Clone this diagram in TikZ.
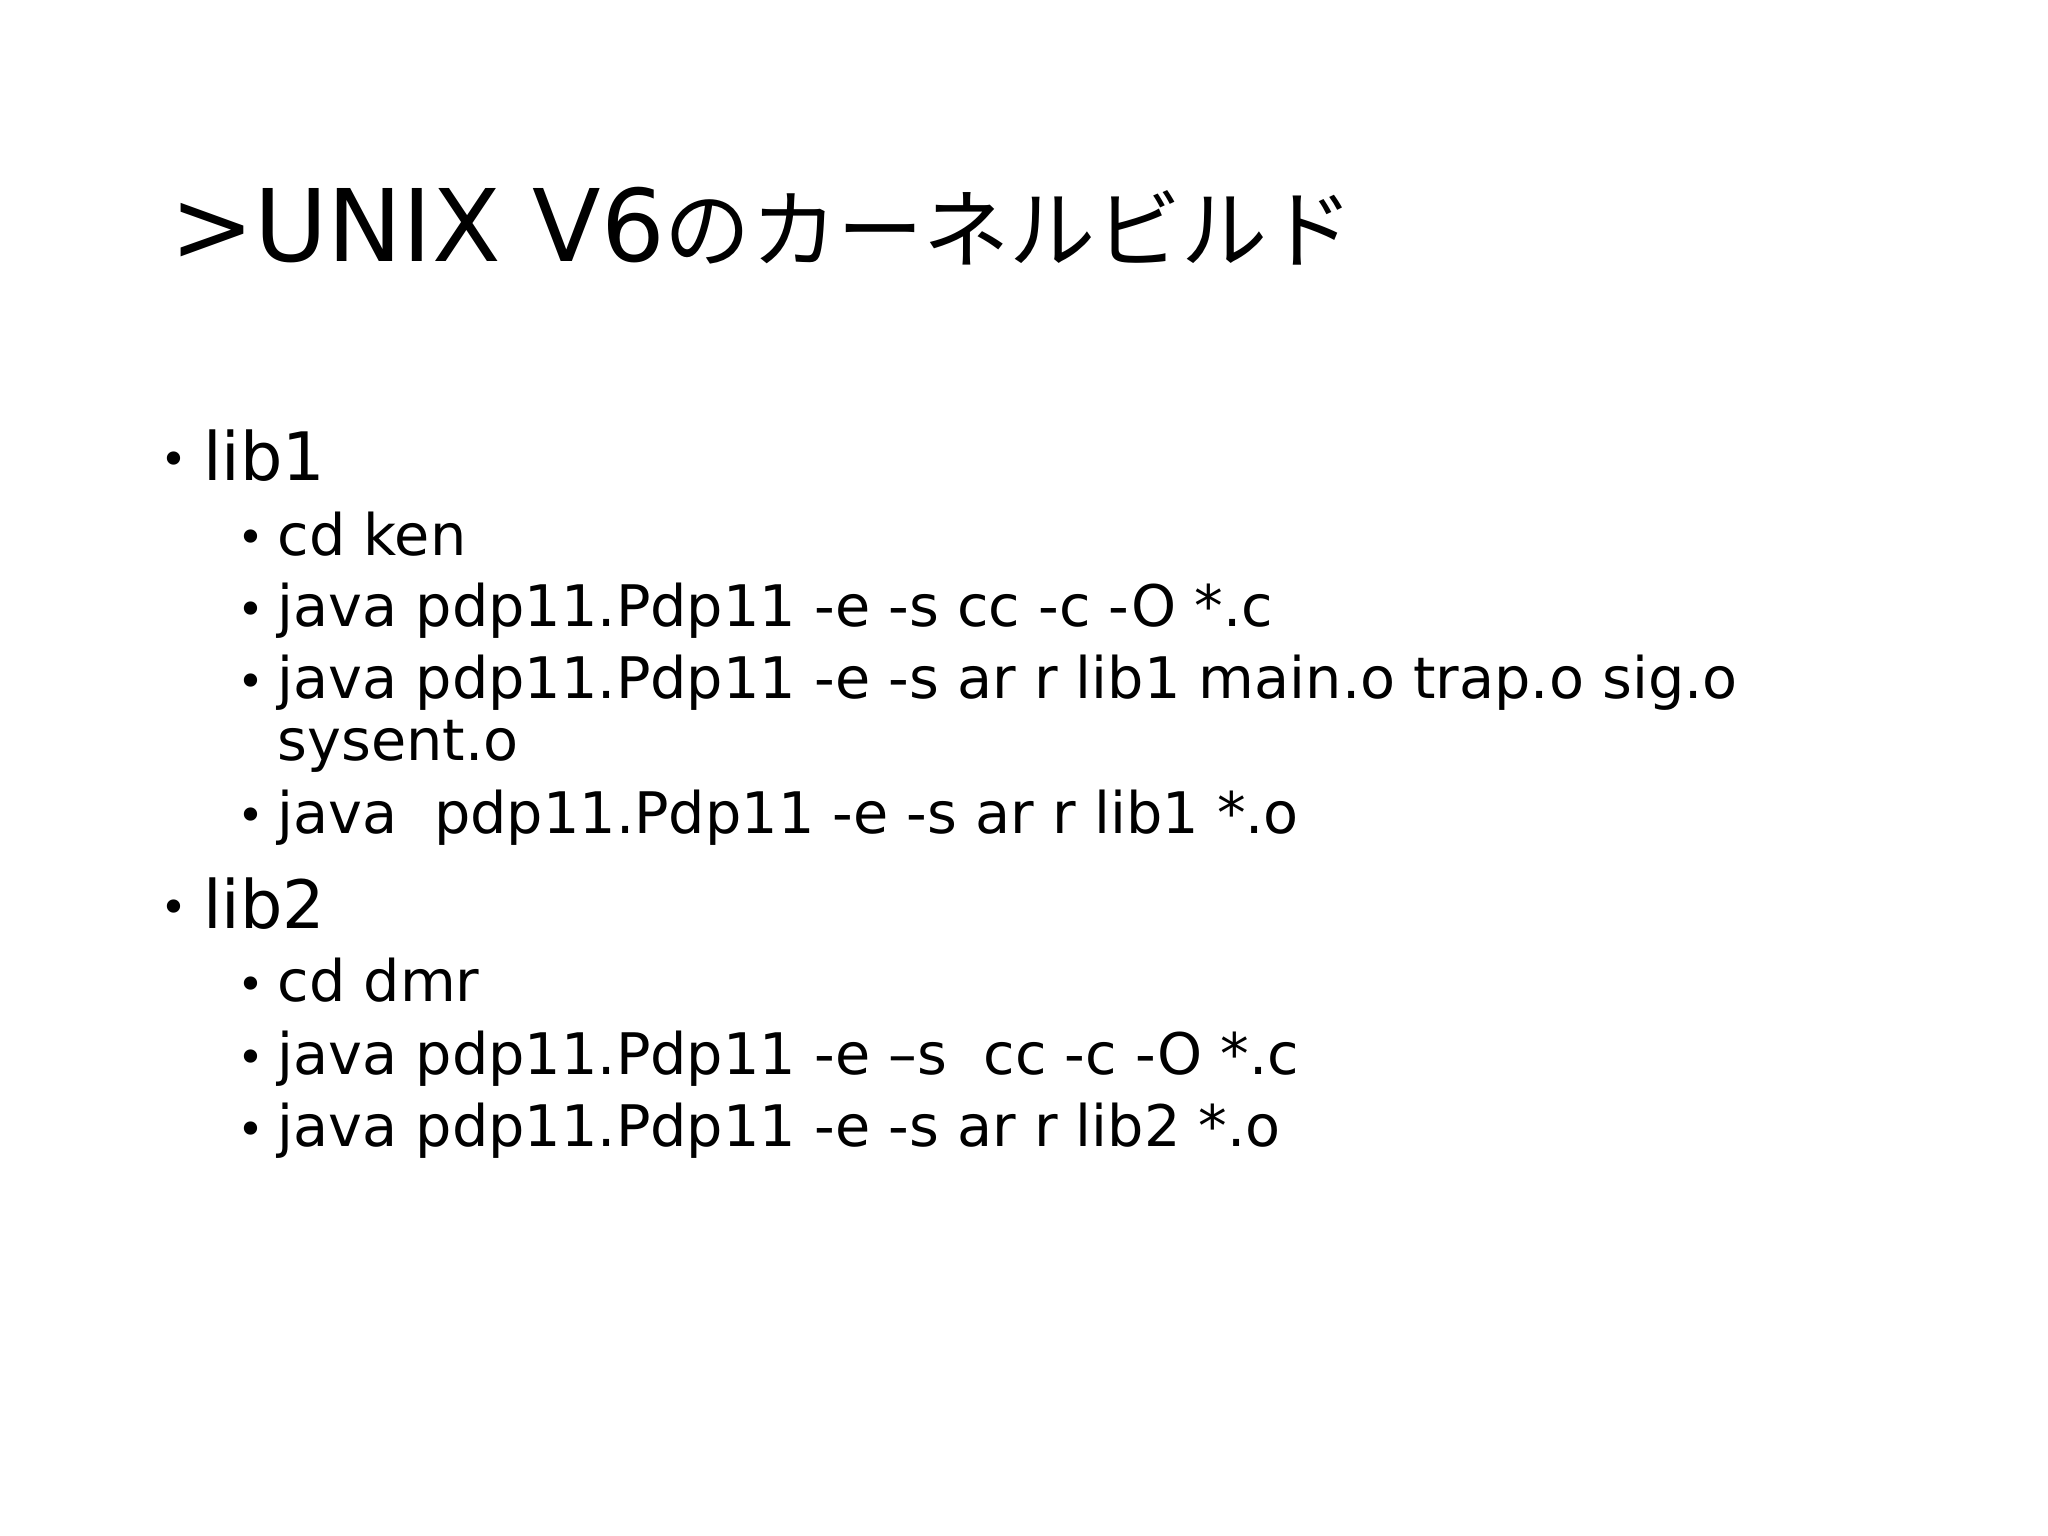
\documentclass[tikz,border=0pt]{standalone}
\usepackage{fontspec}
\setmainfont{DejaVu Sans}
\newfontfamily\cjk{Noto Sans CJK JP}
\begin{document}
\begin{tikzpicture}[x=0.01306cm,y=-0.01306cm,
  t/.style={anchor=base west,inner sep=0pt},
  l1/.style={t,font=\fontsize{19}{24}\selectfont},
  l2/.style={t,font=\fontsize{16.3}{19}\selectfont},
  bl/.style={t,font=\fontsize{13}{19}\selectfont}]
\useasboundingbox (0,0) rectangle (1568,1176);
\node[t,font=\fontsize{28.5}{36}\selectfont] (title) at (130,200) {>UNIX V6{\cjk\fontsize{24.5}{36}\selectfont のカーネルビルド}};
\node[bl] (b1) at (122,364) {•}; \node[l1] (a) at (155,368) {lib1};
\node[bl] (b2) at (181,424) {•}; \node[l2] (c1) at (212,425) {cd ken};
\node[bl] (b3) at (181,479) {•}; \node[l2] (c2) at (212,480) {java pdp11.Pdp11 -e -s cc -c -O *.c};
\node[bl] (b4) at (181,534) {•}; \node[l2] (c3) at (212,535) {java pdp11.Pdp11 -e -s ar r lib1 main.o trap.o sig.o};
\node[l2] (c3b) at (212,582) {sysent.o};
\node[bl] (b5) at (181,637) {•}; \node[l2] (c4) at (212,638) {java\ \ pdp11.Pdp11 -e -s ar r lib1 *.o};
\node[bl] (b6) at (122,707) {•}; \node[l1] (d) at (155,711) {lib2};
\node[bl] (b7) at (181,766) {•}; \node[l2] (e1) at (212,767) {cd dmr};
\node[bl] (b8) at (181,822) {•}; \node[l2] (e2) at (212,823) {java pdp11.Pdp11 -e –s\ \ cc -c -O *.c};
\node[bl] (b9) at (181,877) {•}; \node[l2] (e3) at (212,878) {java pdp11.Pdp11 -e -s ar r lib2 *.o};
\end{tikzpicture}
\end{document}
